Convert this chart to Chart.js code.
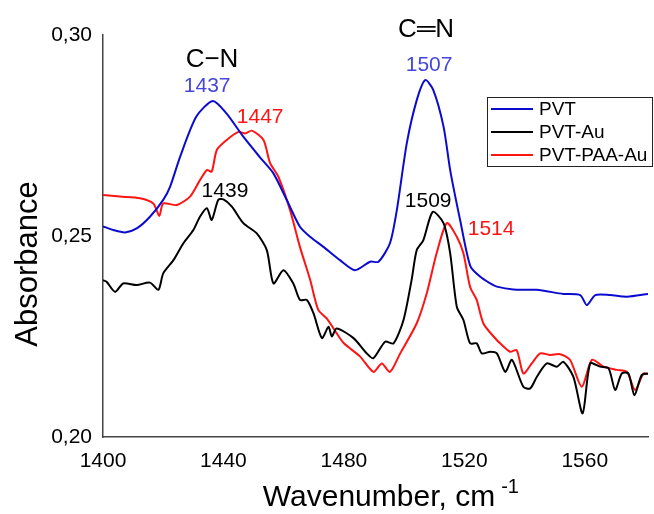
<!DOCTYPE html>
<html>
<head>
<meta charset="utf-8">
<script src="https://cdn.jsdelivr.net/npm/chart.js@4.4.1/dist/chart.umd.min.js"></script>
<style>
  body { margin: 0; background: #fff; }
  canvas { display: block; }
</style>
</head>
<body>
<canvas id="irChart" width="654" height="514"></canvas>
<script>
// wavenumber (cm-1) / absorbance pairs
const pvtX = [1400, 1403.4, 1407.3, 1411.2, 1415.6, 1420, 1422.3, 1425.6, 1431, 1436.5, 1441, 1446.6, 1452, 1456.5, 1461, 1465.4, 1468.8, 1473.2, 1478.7, 1483.7, 1488.7, 1491.5, 1495.3, 1497.6, 1500.9, 1504.2, 1507, 1509.7, 1513.1, 1515.3, 1518.6, 1522, 1525.2, 1528.6, 1530.8, 1536.3, 1544, 1552.9, 1558.5, 1560.7, 1563.5, 1568.4, 1574, 1581];
const pvtY = [0.2524, 0.2515, 0.2509, 0.2519, 0.2548, 0.2590, 0.2623, 0.2697, 0.2797, 0.2836, 0.2805, 0.2747, 0.2697, 0.2657, 0.2590, 0.2523, 0.2498, 0.2473, 0.2440, 0.2415, 0.2436, 0.2436, 0.2482, 0.2565, 0.2731, 0.2838, 0.2888, 0.2863, 0.2772, 0.2664, 0.2540, 0.2425, 0.2399, 0.2382, 0.2374, 0.2367, 0.2366, 0.2356, 0.2353, 0.2328, 0.2353, 0.2353, 0.2349, 0.2356];

const auX = [1400, 1401.2, 1404, 1406.7, 1411.2, 1415.6, 1418.4, 1420, 1423.4, 1426.7, 1430, 1432.2, 1434.5, 1436.1, 1438.3, 1440, 1442.8, 1446.6, 1451, 1454.4, 1456.6, 1459.9, 1463.2, 1465.4, 1467.7, 1469.9, 1472.7, 1474.9, 1476, 1477.6, 1483.2, 1487.6, 1489.8, 1493.7, 1496.5, 1499.8, 1502.5, 1504.2, 1506.4, 1509.5, 1513.1, 1515.3, 1517.5, 1519.7, 1521.9, 1524.1, 1525.8, 1528.6, 1530.8, 1533.6, 1535.8, 1539.6, 1541.9, 1544.1, 1547.4, 1550.7, 1552.9, 1556.2, 1559.3, 1561.8, 1565.1, 1567.9, 1570.1, 1572.3, 1574.5, 1576.5, 1578.9, 1581];
const auY = [0.2390, 0.2386, 0.2361, 0.2382, 0.2378, 0.2384, 0.2366, 0.2407, 0.2440, 0.2482, 0.2515, 0.2548, 0.2569, 0.2540, 0.2590, 0.2591, 0.2573, 0.2532, 0.2507, 0.2465, 0.2382, 0.2415, 0.2382, 0.2341, 0.2341, 0.2308, 0.2246, 0.2274, 0.2250, 0.2270, 0.2246, 0.2208, 0.2196, 0.2237, 0.2233, 0.2291, 0.2391, 0.2465, 0.2490, 0.2560, 0.2532, 0.2457, 0.2324, 0.2291, 0.2233, 0.2233, 0.2208, 0.2212, 0.2208, 0.2162, 0.2192, 0.2125, 0.2121, 0.2150, 0.2183, 0.2175, 0.2187, 0.2150, 0.2059, 0.2183, 0.2175, 0.2171, 0.2117, 0.2158, 0.2158, 0.2104, 0.2154, 0.2158];

const paaX = [1400, 1405.6, 1412.3, 1416.7, 1418.7, 1420, 1424.5, 1428.9, 1432.2, 1434.5, 1436.1, 1437.8, 1441.1, 1445, 1447.2, 1449.4, 1453.3, 1455.5, 1458.2, 1462.1, 1465.4, 1468.8, 1471.5, 1474.3, 1477.6, 1480, 1485.4, 1489.8, 1492.6, 1495.3, 1498.7, 1504.2, 1507.5, 1510.8, 1514.2, 1517.5, 1519.7, 1521.9, 1524.1, 1526.3, 1529.7, 1533, 1535.2, 1537.4, 1539.6, 1542.4, 1545.2, 1548.5, 1551.8, 1555.1, 1559, 1562.4, 1566.2, 1570.7, 1574, 1576.7, 1579.5, 1581];
const paaY = [0.2602, 0.2598, 0.2594, 0.2581, 0.2550, 0.2581, 0.2577, 0.2598, 0.2639, 0.2664, 0.2660, 0.2714, 0.2739, 0.2759, 0.2755, 0.2762, 0.2739, 0.2681, 0.2648, 0.2565, 0.2473, 0.2391, 0.2316, 0.2295, 0.2258, 0.2233, 0.2200, 0.2162, 0.2183, 0.2162, 0.2208, 0.2283, 0.2357, 0.2457, 0.2532, 0.2498, 0.2457, 0.2374, 0.2341, 0.2283, 0.2250, 0.2225, 0.2212, 0.2216, 0.2158, 0.2183, 0.2208, 0.2204, 0.2206, 0.2192, 0.2125, 0.2192, 0.2175, 0.2167, 0.2162, 0.2117, 0.2158, 0.2157];

const seriesNames = ['PVT', 'PVT-Au', 'PVT-PAA-Au'];
const xTicks = [1400, 1440, 1480, 1520, 1560];
const yTicks = [0.20, 0.25, 0.30];

// peak labels, placed in data units
const peakText = ['C\u2212N', '1437', '1447', '1439', 'C\u2550N', '1507', '1509', '1514'];
const peakX = [1436.2, 1434.6, 1452.2, 1440.5, 1507.3, 1508.3, 1508, 1528.9];
const peakY = [0.2920, 0.2858, 0.2781, 0.2597, 0.2995, 0.2910, 0.2572, 0.2502];

const BLUE = '#0b0bd0';
const RED = '#ff1414';
const BLACK = '#000000';
const FONT = "'Liberation Sans', Arial, sans-serif";

function pairs(xs, ys) {
    return xs.map((x, i) => ({ x: x, y: ys[i] }));
}

const peakColors = [BLACK, '#4646dc', RED, BLACK, BLACK, '#4646dc', BLACK, RED];
const peakSizes = [26, 21, 21, 21, 26, 21, 21, 21];

const extrasPlugin = {
    id: 'extras',
    afterDatasetsDraw(chart) {
        const ctx = chart.ctx;
        const xs = chart.scales.x;
        const ys = chart.scales.y;
        const ca = chart.chartArea;

        ctx.save();
        ctx.textAlign = 'center';
        ctx.textBaseline = 'alphabetic';
        peakText.forEach((t, i) => {
            ctx.font = peakSizes[i] + 'px ' + FONT;
            ctx.fillStyle = peakColors[i];
            ctx.fillText(t, xs.getPixelForValue(peakX[i]), ys.getPixelForValue(peakY[i]));
        });

        // legend box
        const lx = 487, ly = 97, lw = 166, lh = 70;
        ctx.fillStyle = '#fff';
        ctx.fillRect(lx, ly, lw, lh);
        ctx.strokeStyle = '#222';
        ctx.lineWidth = 1;
        ctx.strokeRect(lx + 0.5, ly + 0.5, lw - 1, lh - 1);
        ctx.font = '19px ' + FONT;
        ctx.textAlign = 'left';
        ctx.textBaseline = 'middle';
        chart.data.datasets.forEach((ds, i) => {
            const yy = ly + 12 + i * 23;
            ctx.strokeStyle = ds.borderColor;
            ctx.lineWidth = 2;
            ctx.beginPath();
            ctx.moveTo(lx + 4, yy);
            ctx.lineTo(lx + 46, yy);
            ctx.stroke();
            ctx.fillStyle = '#000';
            ctx.fillText(ds.label, lx + 52, yy + 1);
        });

        // axis titles
        ctx.fillStyle = '#000';
        ctx.textBaseline = 'alphabetic';
        ctx.font = '30px ' + FONT;
        const main = 'Wavenumber, cm';
        const w = ctx.measureText(main).width;
        const startX = 387 - (w + 16) / 2;
        ctx.fillText(main, startX, 506);
        ctx.font = '20px ' + FONT;
        ctx.fillText('-1', startX + w + 6, 493);

        ctx.translate(37, (ca.top + ca.bottom) / 2 + 28);
        ctx.rotate(-Math.PI / 2);
        ctx.textAlign = 'center';
        ctx.font = '31px ' + FONT;
        ctx.fillText('Absorbance', 0, 0);
        ctx.restore();
    }
};

const datasets = [
    { label: seriesNames[0], data: pairs(pvtX, pvtY), borderColor: BLUE },
    { label: seriesNames[1], data: pairs(auX, auY), borderColor: BLACK },
    { label: seriesNames[2], data: pairs(paaX, paaY), borderColor: RED }
].map(ds => Object.assign(ds, {
    borderWidth: 2,
    pointRadius: 0,
    tension: 0.25,
    fill: false
}));

new Chart(document.getElementById('irChart'), {
    type: 'line',
    data: { datasets: datasets },
    options: {
        responsive: false,
        animation: false,
        layout: { padding: { top: 35, right: 6, left: 0, bottom: 0 } },
        plugins: {
            legend: { display: false },
            tooltip: { enabled: false }
        },
        scales: {
            x: {
                type: 'linear',
                min: 1400,
                max: 1581,
                afterFit: (scale) => { scale.height = 77; },
                afterBuildTicks: (scale) => { scale.ticks = xTicks.map(v => ({ value: v })); },
                grid: { display: false, drawTicks: false },
                border: { display: true, color: '#444', width: 1.5 },
                ticks: {
                    autoSkip: false,
                    maxRotation: 0,
                    padding: 12,
                    color: '#000',
                    font: { family: FONT, size: 21 },
                    callback: (v) => String(v)
                }
            },
            y: {
                min: 0.20,
                max: 0.30,
                afterFit: (scale) => { scale.width = 103; },
                afterBuildTicks: (scale) => { scale.ticks = yTicks.map(v => ({ value: v })); },
                grid: { display: false, drawTicks: false },
                border: { display: true, color: '#444', width: 1.5 },
                ticks: {
                    padding: 11,
                    color: '#000',
                    font: { family: FONT, size: 21 },
                    callback: (v) => v.toFixed(2).replace('.', ',')
                }
            }
        }
    },
    plugins: [extrasPlugin]
});
</script>
</body>
</html>
